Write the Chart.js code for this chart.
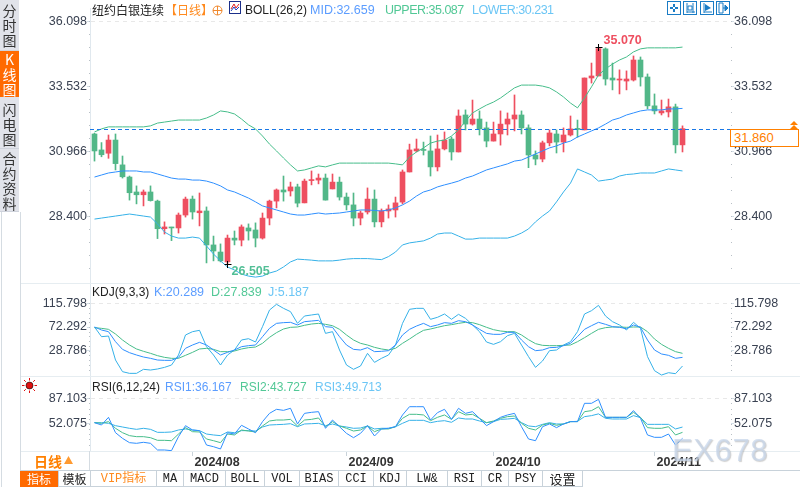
<!DOCTYPE html>
<html>
<head>
<meta charset="utf-8">
<title>纽约白银连续</title>
<script src="https://cdn.jsdelivr.net/npm/chart.js@4/dist/chart.umd.min.js"></script>
<style>
html, body { margin: 0; padding: 0; background: #fff; width: 800px; height: 487px; overflow: hidden; }
body { position: relative; font-family: "Liberation Sans", "Noto Sans CJK SC", sans-serif; font-size: 12.5px; color: #222; }
canvas { position: absolute; left: 0; }
.t { position: absolute; white-space: nowrap; line-height: 14px; }
.sep { position: absolute; left: 20px; right: 0; height: 1px; background: #e6edf1; }
.side { position: absolute; left: 0; width: 19px; background: #e1e3ea; text-align: center; font: 14px/15px "Noto Sans CJK SC"; color: #333; border-bottom: 1px solid #cfd3dc; box-sizing: border-box; }
.tab { position: absolute; top: 471px; height: 16px; line-height: 16px; text-align: center; border-right: 1px solid #c8d2da; font-family: "Liberation Mono", "Noto Sans CJK SC"; font-size: 12px; color: #222; box-sizing: border-box; }
.btn { position: absolute; top: 1px; }
</style>
</head>
<body>
<canvas id="mainChart" width="800" height="275" style="top:8px"></canvas>
<canvas id="kdjChart" width="800" height="92" style="top:284px"></canvas>
<canvas id="rsiChart" width="800" height="93" style="top:377px"></canvas>

<div class="sep" style="top:283px"></div>
<div class="sep" style="top:376px"></div>
<div class="sep" style="top:451px;right:0"></div>
<div style="position:absolute;left:20px;top:212px;bottom:0;width:1px;background:#d5dce2"></div>
<div style="position:absolute;left:1px;top:212px;bottom:0;width:1px;background:#d5dce2"></div>

<div class="side" style="top:0;height:51px;padding-top:3px">分<br>时<br>图</div>
<div class="side" style="top:51px;height:46px;background:#ff6a00;color:#fff;padding-top:1px;border:0">K<br>线<br>图</div>
<div class="side" style="top:97px;height:52px;padding-top:5px">闪<br>电<br>图</div>
<div class="side" style="top:149px;height:63px;padding-top:2px">合<br>约<br>资<br>料</div>

<span class="t" style="left:92px;top:3px;font-size:12px;font-family:'Noto Sans CJK SC'">纽约白银连续</span>
<span class="t" style="left:165px;top:3px;font-size:12px;color:#ff8a1e;font-family:'Noto Sans CJK SC'">【日线】</span>
<svg style="position:absolute;left:212px;top:5px" width="11" height="11"><circle cx="5.5" cy="5.5" r="4.5" fill="none" stroke="#f08a30"/><path d="M1 5.5H10M5.5 1V10" stroke="#f08a30"/></svg>
<svg style="position:absolute;left:229px;top:1px" width="12" height="13"><rect x="0.5" y="0.5" width="11" height="12" fill="#fff" stroke="#1b2f8a"/><path d="M2 8L5 3L7 7L10 3" fill="none" stroke="#e02020"/><path d="M2 10L5 6L7 9L10 6" fill="none" stroke="#2040c0"/></svg>
<span class="t" style="left:245px;top:3px;font-size:12px">BOLL(26,2)</span>
<span class="t" style="left:310px;top:3px;color:#5c9dff">MID:32.659</span>
<span class="t" style="left:385px;top:3px;color:#52c896;letter-spacing:-0.5px">UPPER:35.087</span>
<span class="t" style="left:472px;top:3px;color:#6cc6f5;letter-spacing:-0.5px">LOWER:30.231</span>

<span class="t" style="left:92px;top:285px;font-size:12px">KDJ(9,3,3)</span>
<span class="t" style="left:154px;top:285px;color:#5c9dff">K:20.289</span>
<span class="t" style="left:211px;top:285px;color:#52c896">D:27.839</span>
<span class="t" style="left:268px;top:285px;color:#6cc6f5">J:5.187</span>

<svg style="position:absolute;left:22px;top:378px" width="15" height="15"><circle cx="7.5" cy="7.5" r="3.5" fill="#e01010" stroke="#000" stroke-width="0.6"/><path d="M7.5 0V2.5M7.5 12.5V15M0 7.5H2.5M12.5 7.5H15M2 2L3.8 3.8M11.2 11.2L13 13M13 2L11.2 3.8M3.8 11.2L2 13" stroke="#e01010"/></svg>
<span class="t" style="left:92px;top:380px;font-size:12px">RSI(6,12,24)</span>
<span class="t" style="left:165px;top:380px;font-size:12px;color:#5c9dff">RSI1:36.167</span>
<span class="t" style="left:240px;top:380px;font-size:12px;color:#52c896">RSI2:43.727</span>
<span class="t" style="left:315px;top:380px;font-size:12px;color:#6cc6f5">RSI3:49.713</span>

<svg class="btn" style="left:667px" width="14" height="14"><rect x="0.5" y="0.5" width="13" height="13" fill="#fff" stroke="#1a7cc5"/><path d="M7 3V6M7 8V11M3 7H6M8 7H11" stroke="#1a7cc5" stroke-width="2"/></svg>
<svg class="btn" style="left:683px" width="14" height="14"><rect x="0.5" y="0.5" width="13" height="13" fill="#fff" stroke="#1a7cc5"/><path d="M4 2V12M10 2V12M4 11H12M5 5H9V9H5Z" stroke="#1a7cc5" fill="none"/></svg>
<svg class="btn" style="left:700px" width="14" height="14"><rect x="0.5" y="0.5" width="13" height="13" fill="#fff" stroke="#1a7cc5"/><path d="M4 2V12M4 11H12" stroke="#1a7cc5"/><path d="M5 3L11 7L5 10Z" fill="#1a7cc5"/></svg>
<svg class="btn" style="left:716px" width="14" height="14"><rect x="0.5" y="0.5" width="13" height="13" fill="#fff" stroke="#1a7cc5"/><path d="M3 2H7V12H3Z" stroke="#1a7cc5" fill="none"/><path d="M7 7H10M9 4L12 7L9 10Z" stroke="#1a7cc5" fill="#1a7cc5"/></svg>

<div style="position:absolute;left:730px;top:129px;width:69px;height:18px;box-sizing:border-box;border:1.5px solid #ff8000;background:#fff;color:#ff8000;font-size:13px;line-height:15px;padding-left:3px">31.860</div>
<svg style="position:absolute;left:789px;top:121px" width="10" height="9"><path d="M5 0L9 4H1ZM5 4L9 8H1Z" fill="#ff8000"/></svg>

<span class="t" style="left:34px;top:453px;font:bold 14px/16px 'Noto Sans CJK SC';color:#ff8000">日线</span>
<svg style="position:absolute;left:64px;top:456px" width="9" height="8"><path d="M4.5 0L9 8H0Z" fill="#ff9a30"/></svg>
<div style="position:absolute;left:89px;top:451px;width:1px;height:20px;background:#d5dce2"></div>

<div style="position:absolute;left:20px;right:0;top:470px;height:1px;background:#c8d2da"></div>
<div style="position:absolute;left:20px;right:217px;top:486px;height:1px;background:#c8d2da"></div>
<div class="tab" style="left:20px;width:39px;background:#ff6a00;color:#fff;font-family:'Noto Sans CJK SC'">指标</div>
<div class="tab" style="left:59px;width:32px;font-family:'Noto Sans CJK SC'">模板</div>
<div class="tab" style="left:91px;width:66px;color:#ff8a1e">VIP指标</div>
<div class="tab" style="left:157px;width:27px">MA</div>
<div class="tab" style="left:184px;width:42px">MACD</div>
<div class="tab" style="left:226px;width:39px">BOLL</div>
<div class="tab" style="left:265px;width:35px">VOL</div>
<div class="tab" style="left:300px;width:39px">BIAS</div>
<div class="tab" style="left:339px;width:35px">CCI</div>
<div class="tab" style="left:374px;width:33px">KDJ</div>
<div class="tab" style="left:407px;width:41px">LW&amp;</div>
<div class="tab" style="left:448px;width:34px">RSI</div>
<div class="tab" style="left:482px;width:27px">CR</div>
<div class="tab" style="left:509px;width:34px">PSY</div>
<div class="tab" style="left:543px;width:40px;font-family:'Noto Sans CJK SC';font-size:13px">设置</div>

<span class="t" style="left:672px;top:434px;font-size:31px;line-height:34px;letter-spacing:0.6px;color:rgba(200,215,235,0.75);text-shadow:1px 1px 1px rgba(150,150,150,0.45)">EX678</span>

<script>
// candles (2024-07-12 .. 2024-11-07)
var opens = [31.65,31.02,30.89,31.41,30.43,29.95,29.36,29.25,29.36,29.00,27.91,27.97,27.94,28.45,29.08,28.54,28.61,27.27,26.99,26.60,27.54,27.46,27.94,27.86,27.54,28.33,29.00,29.44,29.40,29.56,28.93,29.81,29.83,29.91,29.48,29.75,29.16,28.85,28.33,28.57,29.08,28.18,28.61,28.65,28.96,30.15,30.98,31.03,30.98,30.35,31.06,31.45,30.94,32.40,32.04,32.24,31.89,31.37,31.65,32.04,32.24,32.40,31.89,30.82,30.66,31.30,31.65,31.33,31.61,31.86,31.81,33.86,33.94,35.01,33.86,33.78,33.74,33.78,34.57,33.90,32.76,32.48,32.52,32.72,31.22];
var highs = [31.68,31.31,31.61,31.65,30.78,29.99,29.60,29.44,29.60,29.04,28.18,27.97,28.53,29.16,29.20,29.32,28.77,27.62,27.31,27.66,27.82,28.06,28.10,28.14,28.53,29.04,29.48,29.99,29.75,29.67,29.87,30.19,30.07,30.07,30.07,29.95,29.32,29.32,28.61,29.52,29.44,28.69,28.85,29.16,30.23,31.25,31.45,31.33,31.57,31.61,31.73,31.53,32.60,32.60,32.99,32.56,32.12,32.12,32.56,32.48,33.19,32.56,32.01,30.98,31.37,31.81,31.81,31.89,32.36,32.20,33.86,34.45,35.07,35.05,34.45,34.18,34.14,34.73,34.69,34.02,33.23,32.99,33.03,32.83,31.97];
var lows = [30.58,30.75,30.69,30.23,29.91,29.04,28.89,28.81,29.00,27.52,27.70,27.44,27.74,28.37,28.29,28.02,26.56,26.64,26.60,26.505,27.27,27.23,27.46,27.19,27.50,28.06,28.73,29.00,29.20,28.77,28.93,29.64,29.68,29.04,29.48,29.04,28.65,28.02,28.06,28.49,27.98,27.98,28.33,28.37,28.89,30.15,30.94,30.82,29.99,30.19,31.02,30.62,30.94,31.81,32.00,31.61,31.14,31.37,31.21,31.61,31.77,31.65,30.32,30.43,30.55,31.18,30.90,30.94,31.57,31.52,31.81,33.66,33.94,33.58,33.39,33.23,33.39,33.74,33.54,32.64,32.44,32.40,32.32,30.90,30.94];
var closes = [30.98,30.83,31.41,30.48,29.96,29.33,29.25,29.36,29.02,27.91,27.98,27.94,28.45,29.08,28.57,28.61,27.27,27.03,26.64,27.54,27.46,27.98,27.82,27.54,28.33,29.00,29.44,29.36,29.56,28.92,29.79,29.83,29.91,29.04,29.75,29.16,28.85,28.33,28.53,29.08,28.18,28.61,28.69,28.93,30.15,31.02,31.06,31.00,30.35,31.06,31.41,30.94,32.36,32.04,32.24,31.85,31.37,31.65,32.04,32.24,32.40,31.89,30.82,30.66,31.30,31.69,31.33,31.61,31.85,31.83,33.86,33.94,35.02,33.82,33.78,33.82,33.82,34.57,33.90,32.76,32.56,32.56,32.72,31.22,31.86];

// BOLL
var bollUpper = [31.73,31.85,31.93,31.93,31.93,31.93,31.93,31.93,31.97,32.08,32.12,32.16,32.20,32.20,32.20,32.20,32.28,32.40,32.56,32.52,32.44,32.24,32.01,31.85,31.57,31.25,30.98,30.70,30.43,30.19,30.23,30.31,30.39,30.35,30.43,30.50,30.50,30.50,30.50,30.50,30.50,30.50,30.50,30.47,30.43,30.74,30.94,31.10,31.29,31.37,31.41,31.57,31.81,32.16,32.48,32.64,32.79,32.91,33.07,33.27,33.47,33.58,33.58,33.58,33.54,33.47,33.31,33.11,32.87,32.68,33.07,33.51,33.98,34.22,34.41,34.57,34.69,34.89,35.01,35.05,35.05,35.05,35.05,35.05,35.08];
var bollMid = [29.95,30.03,30.11,30.15,30.19,30.19,30.19,30.15,30.15,30.07,29.99,29.91,29.87,29.87,29.83,29.83,29.79,29.71,29.60,29.44,29.36,29.24,29.12,28.97,28.81,28.73,28.65,28.57,28.49,28.45,28.45,28.49,28.53,28.49,28.51,28.53,28.57,28.61,28.65,28.65,28.63,28.61,28.65,28.73,28.85,29.00,29.20,29.36,29.44,29.56,29.64,29.71,29.79,29.91,29.99,30.11,30.23,30.31,30.39,30.47,30.58,30.62,30.74,30.86,30.98,31.10,31.18,31.29,31.37,31.53,31.65,31.77,31.89,32.04,32.20,32.28,32.40,32.48,32.56,32.60,32.60,32.60,32.64,32.64,32.66];
var bollLower = [28.29,28.33,28.37,28.41,28.45,28.49,28.45,28.41,28.37,28.10,27.78,27.62,27.54,27.54,27.58,27.54,27.23,26.91,26.64,26.40,26.28,26.12,26.04,26.00,26.04,26.16,26.24,26.40,26.60,26.71,26.69,26.67,26.64,26.64,26.64,26.67,26.71,26.73,26.73,26.73,26.71,26.69,26.81,26.99,27.27,27.35,27.39,27.43,27.54,27.70,27.74,27.74,27.62,27.50,27.50,27.54,27.54,27.54,27.54,27.54,27.62,27.74,27.90,28.18,28.41,28.61,28.97,29.36,29.71,30.27,30.15,30.03,29.79,29.83,29.87,29.99,30.05,30.07,30.11,30.11,30.11,30.19,30.27,30.23,30.19];

// KDJ
var kdjK = [72.3,66.8,63.7,45.3,31.2,25.1,20.8,17.1,14.7,11.6,11.0,11.0,16.5,33.1,39.2,44.1,39.2,30.0,20.8,25.7,30.0,36.1,38.0,39.2,54.5,69.8,79.0,80.3,80.9,76.0,82.1,83.3,84.5,72.9,71.7,54.5,39.2,31.2,30.0,34.3,27.0,27.6,28.8,39.2,57.6,68.0,74.1,79.0,72.9,76.0,80.3,79.0,83.9,82.1,76.0,68.0,60.6,58.8,58.8,62.5,62.5,48.4,36.1,28.8,30.0,34.3,34.9,38.0,42.3,54.5,68.0,74.7,80.9,77.2,72.9,71.7,69.2,76.0,71.7,48.4,30.0,22.7,20.2,14.7,16.5];
var kdjD = [71.1,69.8,68.0,59.4,48.4,39.2,31.9,27.6,23.9,19.6,16.5,14.7,14.7,20.2,25.7,31.9,33.1,31.2,27.0,27.0,28.2,31.9,34.3,35.5,42.3,53.3,61.9,68.6,71.7,72.3,75.4,77.8,79.0,77.2,74.7,68.0,57.6,48.4,42.3,39.2,34.9,31.9,30.0,33.1,42.3,50.2,58.8,66.2,68.6,71.7,74.7,76.6,79.0,80.9,80.3,76.6,71.7,67.4,64.9,63.7,63.7,57.6,49.0,41.7,38.6,38.0,38.0,38.6,39.2,45.3,52.7,60.6,68.0,71.1,72.3,72.3,71.7,72.3,72.3,63.7,50.2,40.4,33.1,27.0,23.9];
var kdjJ = [72.3,54.5,55.7,11.6,-9.8,-12.9,-12.9,-5.5,-6.8,-4.9,-1.9,2.4,20.8,57.6,63.7,66.2,36.1,20.8,2.4,20.8,30.0,48.4,50.8,44.7,72.9,103.5,114.0,106.6,100.5,79.0,92.5,94.4,96.2,60.6,63.7,30.0,2.4,-5.5,0.6,23.9,7.3,14.7,20.8,39.2,79.0,104.8,106.6,106.6,86.4,90.1,96.2,86.4,95.6,88.2,76.0,63.7,44.7,40.4,45.3,56.4,60.6,39.2,17.8,-1.9,9.8,28.8,30.0,39.2,45.3,63.7,96.2,102.3,112.1,92.5,82.1,76.0,66.8,80.9,69.8,17.8,-8.0,-16.0,-11.7,-13.5,0.6];

// RSI
var rsi1 = [53.9,50.7,61.2,40.2,32.5,26.6,25.7,27.1,25.7,16.6,16.6,15.7,34.8,49.8,43.9,43.0,23.4,21.1,18.0,40.2,38.4,50.3,45.3,40.2,55.3,66.6,72.1,70.7,73.5,52.1,66.6,68.0,68.9,46.2,57.5,48.4,39.3,33.4,39.3,49.8,35.7,45.3,46.2,48.4,64.4,75.7,75.7,75.7,57.5,67.6,72.1,58.4,73.5,66.6,68.9,59.8,49.8,55.3,61.2,64.4,66.6,48.4,31.6,29.3,48.4,52.1,47.1,52.1,55.3,55.3,80.3,80.3,85.7,61.2,61.2,61.2,61.2,70.3,59.8,37.1,33.9,33.9,38.4,23.4,32.5];
var rsi2 = [53.9,53.0,55.3,46.2,40.2,36.2,34.8,34.8,33.4,29.8,29.8,29.3,38.4,47.1,41.6,41.2,31.6,29.3,26.6,38.4,37.1,43.9,42.5,41.2,49.4,56.2,57.5,57.5,58.4,49.4,57.5,58.4,60.3,48.4,55.3,49.4,46.2,42.5,43.9,49.4,41.6,45.3,45.3,48.4,59.8,65.3,65.3,64.4,56.6,61.2,64.4,58.4,68.9,64.4,65.3,59.8,53.9,56.2,59.8,62.1,63.0,53.0,46.2,43.9,50.7,53.0,50.3,52.1,55.3,55.3,68.9,70.3,75.7,61.2,61.2,61.2,61.2,68.0,61.2,47.1,46.2,46.2,48.4,37.1,40.7];
var rsi3 = [53.9,53.9,53.0,49.8,48.0,46.2,44.8,46.2,44.8,40.7,40.7,41.2,43.9,45.3,43.9,43.0,38.4,37.1,36.2,41.2,40.2,43.0,43.0,42.5,48.0,50.7,51.2,51.6,52.5,48.4,52.1,52.5,53.0,49.8,52.1,49.4,48.0,46.2,46.6,49.4,45.3,46.2,46.2,48.4,53.0,57.1,57.1,57.1,53.9,55.7,56.6,54.4,60.3,58.9,58.9,56.2,53.9,55.3,58.4,58.9,59.8,53.9,49.4,48.4,51.6,53.9,52.1,52.1,55.3,55.7,62.1,63.5,65.9,59.8,58.9,58.9,58.9,63.5,60.8,51.6,51.6,51.6,51.6,45.3,47.9];

// axis ticks
var mainTicks = [28.400, 30.966, 33.532, 36.098];
var kdjTicks = [28.786, 72.292, 115.798];
var rsiTicks = [52.075, 87.103];
var monthIndex = [14, 36, 57, 80];
var monthLabels = ["2024/08", "2024/09", "2024/10", "2024/11"];

var upColor = "#ee4f60";
var downColor = "#52b788";
var lineGreen = "#46bd8a";
var lineBlue = "#2e8fff";
var lineCyan = "#35b1e8";

function linePoints(values) {
    return values.map(function(v, i) { return { x: i, y: v }; });
}

function lineSet(values, color) {
    return { type: "line", data: linePoints(values), borderColor: color, borderWidth: 1, pointRadius: 0, tension: 0, order: 0 };
}

// small dots between the labelled ticks, on both axes
var minorTicks = {
    id: "minorTicks",
    afterDraw: function(chart) {
        var ctx = chart.ctx;
        var scale = chart.scales.y;
        var ticks = scale.ticks;
        var step = (ticks[1].value - ticks[0].value) / 5;
        var top = ticks[ticks.length - 1].value;
        ctx.save();
        ctx.fillStyle = "#b9c0c6";
        for (var n = 0; n < 100; n++) {
            var y = Math.round(scale.getPixelForValue(top - n * step));
            if (y > chart.chartArea.bottom - 6) break;
            ctx.fillRect(chart.chartArea.left - 1, y, 1, 1);
            ctx.fillRect(chart.chartArea.right, y, 1, 1);
        }
        ctx.restore();
    }
};

// no room is kept for the labels at the ends of an axis, the plot fills the canvas
function noPadding(axis) {
    axis.paddingTop = 0;
    axis.paddingBottom = 0;
    axis.paddingLeft = 0;
    axis.paddingRight = 0;
}

function makeChart(id, datasets, min, max, ticks, plugins, showX) {
    var tickFont = { family: "Liberation Sans", size: 12.5 };
    var yAxis = function(position) {
        return {
            position: position,
            min: min,
            max: max,
            afterBuildTicks: function(axis) {
                axis.ticks = ticks.map(function(v) { return { value: v }; });
            },
            afterFit: function(axis) {
                axis.width = position == "left" ? 90 : 69;
                noPadding(axis);
            },
            ticks: {
                font: tickFont,
                color: "#3a4252",
                padding: 0,
                autoSkip: false,
                callback: function(v) { return v.toFixed(3); }
            },
            border: { display: position == "left", color: "#e0e8ee", dash: [4, 4] },
            grid: {
                drawOnChartArea: position == "left",
                tickLength: 3,
                tickColor: "#d5e0e8",
                color: function(c) { return c.index == ticks.length - 1 ? "#e8e8e8" : "transparent"; }
            }
        };
    };
    return new Chart(document.getElementById(id), {
        data: { datasets: datasets },
        plugins: [minorTicks].concat(plugins || []),
        options: {
            responsive: false,
            animation: false,
            events: [],
            layout: { padding: 0 },
            plugins: { legend: { display: false }, tooltip: { enabled: false } },
            scales: {
                x: {
                    type: "linear",
                    display: !!showX,
                    offset: false,
                    min: -0.642857,
                    max: 90.928571,
                    afterBuildTicks: function(axis) {
                        axis.ticks = monthIndex.map(function(v) { return { value: v }; });
                    },
                    afterFit: function(axis) {
                        axis.height = showX ? 19 : 0;
                        noPadding(axis);
                    },
                    ticks: {
                        font: { family: "Liberation Sans", size: 12.5, weight: "bold" },
                        color: "#333",
                        align: "start",
                        labelOffset: 2,
                        padding: -1,
                        maxRotation: 0,
                        autoSkip: false,
                        callback: function(v) { return monthLabels[monthIndex.indexOf(v)]; }
                    },
                    border: { display: false },
                    grid: { offset: false, drawOnChartArea: false, tickLength: 5, tickColor: "#c9d3da" }
                },
                y: yAxis("left"),
                y2: yAxis("right")
            }
        }
    });
}

// dashed last price line and the high / low marks
var priceMarks = {
    id: "priceMarks",
    afterDatasetsDraw: function(chart) {
        var ctx = chart.ctx;
        var xs = chart.scales.x;
        var ys = chart.scales.y;
        var last = closes[closes.length - 1];
        ctx.save();
        ctx.strokeStyle = "#1a78e6";
        ctx.setLineDash([4, 3]);
        ctx.beginPath();
        ctx.moveTo(chart.chartArea.left, Math.round(ys.getPixelForValue(last)) + 0.5);
        ctx.lineTo(chart.chartArea.right, Math.round(ys.getPixelForValue(last)) + 0.5);
        ctx.stroke();
        ctx.setLineDash([]);

        var hi = Math.max.apply(null, highs);
        var lo = Math.min.apply(null, lows);
        var hiX = xs.getPixelForValue(highs.indexOf(hi));
        var hiY = ys.getPixelForValue(hi);
        var loX = xs.getPixelForValue(lows.indexOf(lo));
        var loY = ys.getPixelForValue(lo);
        ctx.strokeStyle = "#000";
        ctx.beginPath();
        ctx.moveTo(hiX - 3, Math.round(hiY) + 0.5); ctx.lineTo(hiX + 4, Math.round(hiY) + 0.5);
        ctx.moveTo(hiX, Math.round(hiY) - 3); ctx.lineTo(hiX, Math.round(hiY) + 4);
        ctx.moveTo(loX - 3, Math.round(loY) + 0.5); ctx.lineTo(loX + 4, Math.round(loY) + 0.5);
        ctx.moveTo(loX, Math.round(loY) - 3); ctx.lineTo(loX, Math.round(loY) + 4);
        ctx.stroke();

        ctx.font = "bold 12.5px 'Liberation Sans'";
        ctx.textBaseline = "middle";
        ctx.fillStyle = upColor;
        ctx.fillText(hi.toFixed(3), hiX + 5, hiY - 7);
        ctx.fillStyle = "#52bf96";
        ctx.fillText(lo.toFixed(3), loX + 4, loY + 7);
        ctx.restore();
    }
};

var candleColors = closes.map(function(c, i) { return c >= opens[i] ? upColor : downColor; });

var mainSets = [
    lineSet(bollUpper, lineGreen),
    lineSet(bollMid, lineBlue),
    lineSet(bollLower, lineCyan),
    {
        type: "bar",
        data: opens.map(function(o, i) { return { x: i, y: [o, closes[i]] }; }),
        backgroundColor: candleColors,
        barThickness: 5,
        minBarLength: 1,
        grouped: false,
        order: 1
    },
    {
        type: "bar",
        data: lows.map(function(l, i) { return { x: i, y: [l, highs[i]] }; }),
        backgroundColor: candleColors,
        barThickness: 1,
        grouped: false,
        order: 2
    }
];

makeChart("mainChart", mainSets, 25.767, 36.623, mainTicks, [priceMarks]);
makeChart("kdjChart", [lineSet(kdjK, lineBlue), lineSet(kdjD, lineGreen), lineSet(kdjJ, lineCyan)], -17.77, 151.326, kdjTicks);
makeChart("rsiChart", [lineSet(rsi1, lineBlue), lineSet(rsi2, lineGreen), lineSet(rsi3, lineCyan)], 15.228, 116.216, rsiTicks, [], true);
</script>
</body>
</html>
